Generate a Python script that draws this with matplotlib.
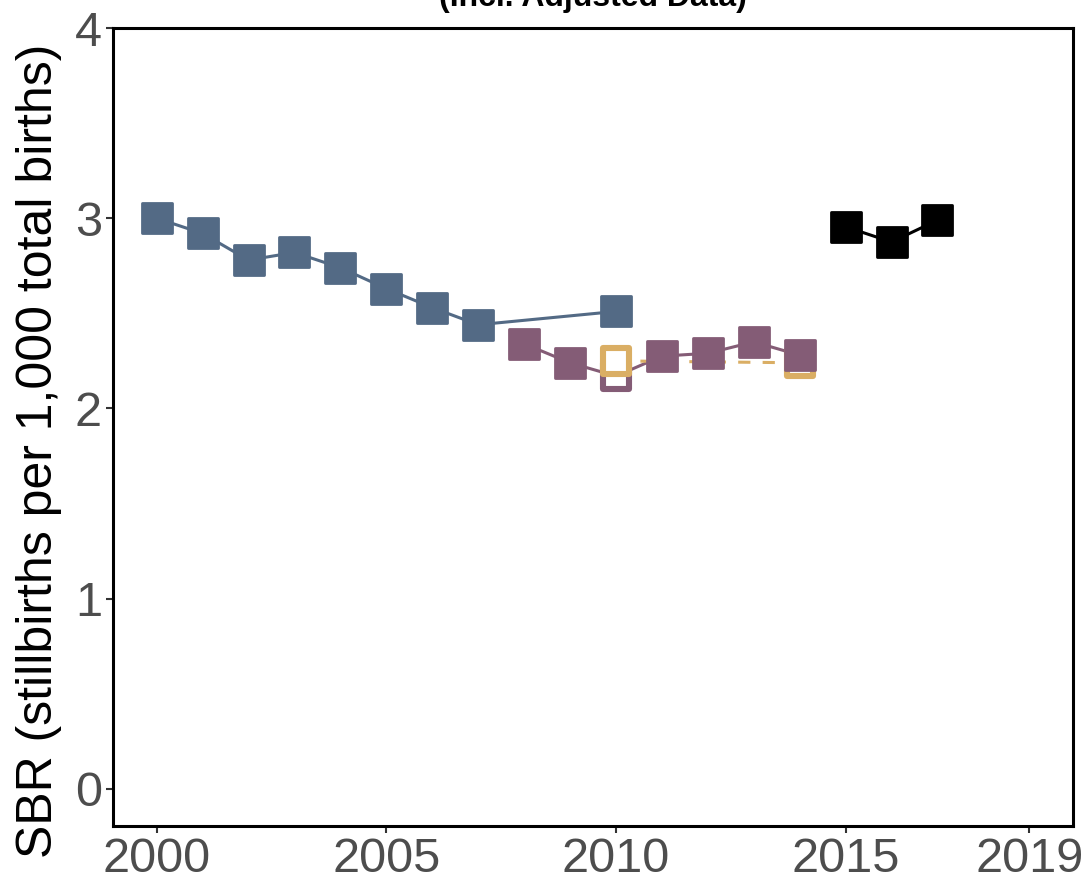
"""Stillbirth rate trend chart (incl. adjusted data)."""
import matplotlib

matplotlib.use("Agg")
import matplotlib.pyplot as plt
from matplotlib.markers import MarkerStyle

plt.rcParams["font.family"] = ["Liberation Sans", "DejaVu Sans"]

# ── Data ────────────────────────────────────────────────────────────────
blue_years = [2000, 2001, 2002, 2003, 2004, 2005, 2006, 2007, 2010]
blue_sbr = [3.00, 2.92, 2.78, 2.82, 2.74, 2.63, 2.53, 2.44, 2.51]

purple_years = [2008, 2009, 2010, 2011, 2012, 2013, 2014]
purple_sbr = [2.34, 2.24, 2.17, 2.275, 2.29, 2.35, 2.28]
purple_open = [False, False, True, False, False, False, False]

orange_years = [2010, 2014]
orange_sbr = [2.25, 2.24]

black_years = [2015, 2016, 2017]
black_sbr = [2.955, 2.875, 2.99]

x_ticks = [2000, 2005, 2010, 2015, 2019]
y_ticks = [0, 1, 2, 3, 4]

BLUE = "#536A85"
PURPLE = "#845C76"
ORANGE = "#DAAE64"
BLACK = "#000000"

SQ = MarkerStyle("s", joinstyle="round")


def _filled(ax, xs, ys, color):
    ax.plot(xs, ys, linestyle="none", marker=SQ, markersize=21,
            markerfacecolor=color, markeredgecolor=color,
            markeredgewidth=2, zorder=4)


def _hollow(ax, xs, ys, color):
    ax.plot(xs, ys, linestyle="none", marker=SQ, markersize=18.6,
            markerfacecolor="white", markeredgecolor=color,
            markeredgewidth=4.4, zorder=3)


fig = plt.figure(figsize=(10.88, 8.8), dpi=100)
ax = fig.add_axes([113 / 1088, 54 / 880, 960 / 1088, 798 / 880])

# ── Lines ──
ax.plot(blue_years, blue_sbr, color=BLUE, lw=2.2, zorder=2)
ax.plot(purple_years, purple_sbr, color=PURPLE, lw=2.2, zorder=2)
ax.plot(orange_years, orange_sbr, color=ORANGE, lw=2.2,
        linestyle=(0, (4, 4)), zorder=2)
ax.plot(black_years, black_sbr, color=BLACK, lw=2.2, zorder=2)

# ── Points: hollow first, filled on top ──
p_open_x = [x for x, o in zip(purple_years, purple_open) if o]
p_open_y = [y for y, o in zip(purple_sbr, purple_open) if o]
p_fill_x = [x for x, o in zip(purple_years, purple_open) if not o]
p_fill_y = [y for y, o in zip(purple_sbr, purple_open) if not o]
_hollow(ax, p_open_x, p_open_y, PURPLE)
_hollow(ax, orange_years, orange_sbr, ORANGE)
_filled(ax, blue_years, blue_sbr, BLUE)
_filled(ax, p_fill_x, p_fill_y, PURPLE)
_filled(ax, black_years, black_sbr, BLACK)

# ── Axes ──
ax.set_xlim(1999.05, 2019.95)
ax.set_ylim(-0.195, 4.0)
ax.set_xticks(x_ticks)
ax.set_yticks(y_ticks)
ax.tick_params(axis="both", labelsize=35, labelcolor="#4D4D4D",
               color="#333333", length=5, width=1.5, pad=3)
for sp in ax.spines.values():
    sp.set_color("black")
    sp.set_linewidth(2.2)

ax.set_ylabel("SBR (stillbirths per 1,000 total births)", fontsize=36,
              color="black")
ax.yaxis.set_label_coords(-0.053, 0.47)

# Title (second line, partially clipped by the canvas edge)
fig.text(0.545, 1 - 6 / 880, "(Incl. Adjusted Data)", ha="center",
         va="baseline", fontsize=23, fontweight="bold")

fig.savefig("out.png", dpi=100, facecolor="white")
